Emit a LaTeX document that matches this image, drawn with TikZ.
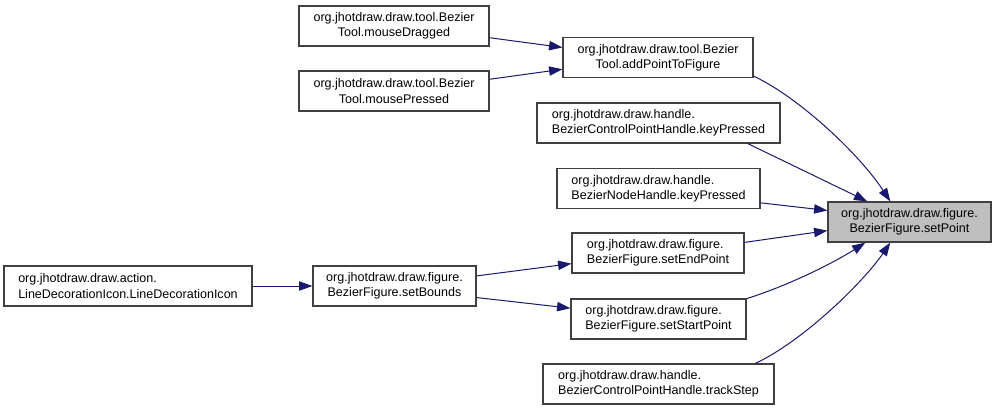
\documentclass[tikz,border=0pt]{standalone}
\usepackage{fontspec}
\setmainfont{Liberation Sans}
\usetikzlibrary{arrows.meta}
\definecolor{edgeblue}{HTML}{191970}
\definecolor{boxgray}{HTML}{404040}
\definecolor{fillgray}{HTML}{BFBFBF}
\begin{document}
\begin{tikzpicture}[x=0.75pt,y=-0.75pt,
  fn/.style={draw=boxgray, line width=0.9pt, fill=white, minimum height=30pt,
    inner sep=0pt, font=\fontsize{9.4}{11.5}\selectfont, align=center},
  fnl/.style={fn, align=left},
  cur/.style={fn, fill=fillgray},
  edge/.style={draw=edgeblue, line width=0.75pt, -{Triangle[length=10pt,width=7pt]}, fill=none}]
\useasboundingbox (0,0) rectangle (996,411);
\fill[white] (0,0) rectangle (996,411);

\node[fn, minimum width=142.5pt] (md) at (394,26) {org.jhotdraw.draw.tool.Bezier\\Tool.mouseDragged};
\node[fn, minimum width=142.5pt] (mp) at (394,91) {org.jhotdraw.draw.tool.Bezier\\Tool.mousePressed};
\node[fn, minimum width=142.5pt] (ap) at (658,57.5) {org.jhotdraw.draw.tool.Bezier\\Tool.addPointToFigure};
\node[fnl, minimum width=182.25pt] (ck) at (658.5,123) {org.jhotdraw.draw.handle.\\BezierControlPointHandle.keyPressed};
\node[fnl, minimum width=152.25pt] (nk) at (658.5,188.5) {org.jhotdraw.draw.handle.\\BezierNodeHandle.keyPressed};
\node[cur, minimum width=122.25pt] (sp) at (909.5,222) {org.jhotdraw.draw.figure.\\BezierFigure.setPoint};
\node[fnl, minimum width=129pt] (se) at (658,253) {org.jhotdraw.draw.figure.\\BezierFigure.setEndPoint};
\node[fnl, minimum width=131.25pt] (ss) at (658.5,319) {org.jhotdraw.draw.figure.\\BezierFigure.setStartPoint};
\node[fnl, minimum width=173.25pt] (ts) at (658.5,384) {org.jhotdraw.draw.handle.\\BezierControlPointHandle.trackStep};
\node[fn, minimum width=122.25pt] (sb) at (394.5,286) {org.jhotdraw.draw.figure.\\BezierFigure.setBounds};
\node[fnl, minimum width=186pt] (ld) at (128,286) {org.jhotdraw.draw.action.\\LineDecorationIcon.LineDecorationIcon};

\draw[edge] (md.-7) -- (ap.174);
\draw[edge] (mp.7) -- (ap.187);
\draw[edge] (ap.-11) .. controls (800,98) and (860,155) .. (sp.133);
\draw[edge] (ck.-13) -- (sp.154);
\draw[edge] (nk.-8) -- (sp.172);
\draw[edge] (se.7) -- (sp.186);
\draw[edge] (ss.13) .. controls (790,285) and (835,262) .. (sp.205);
\draw[edge] (ts.12) .. controls (805,340) and (865,280) .. (sp.227);
\draw[edge] (sb.7) -- (se.187);
\draw[edge] (sb.-8) -- (ss.173);
\draw[edge] (ld.east) -- (sb.west);
\end{tikzpicture}
\end{document}
